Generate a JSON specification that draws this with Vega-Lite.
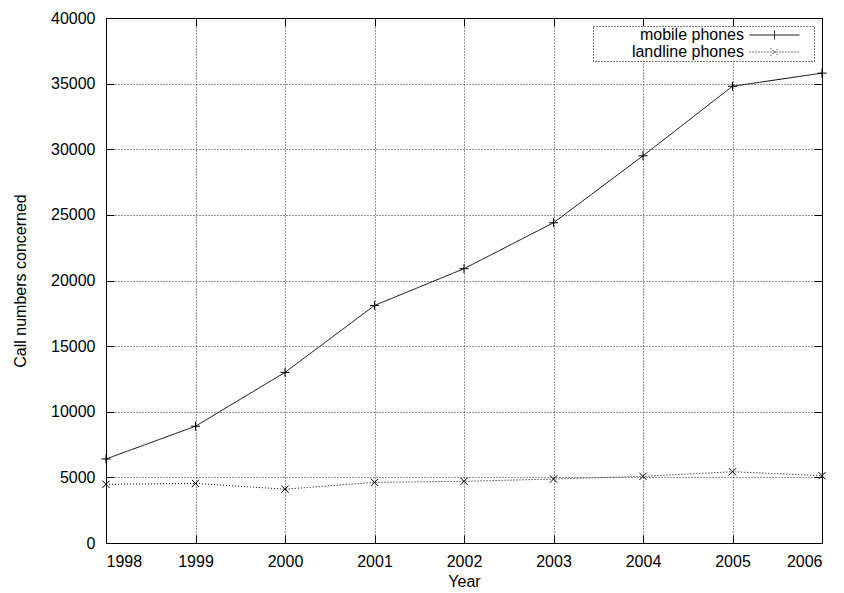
{
  "$schema": "https://vega.github.io/schema/vega-lite/v6.json",
  "width": 716,
  "height": 525,
  "autosize": "none",
  "padding": {"left": 106, "top": 18, "right": 22, "bottom": 50},
  "background": "white",
  "config": {
    "font": "Liberation Sans",
    "view": {"stroke": "black", "strokeWidth": 1},
    "axis": {
      "labelFont": "Liberation Sans",
      "titleFont": "Liberation Sans",
      "labelFontSize": 16,
      "titleFontSize": 16,
      "titleFontWeight": "normal",
      "labelColor": "black",
      "titleColor": "black",
      "tickColor": "black",
      "domainColor": "black",
      "gridColor": "black",
      "gridDash": [1, 2],
      "gridOpacity": 0.8,
      "tickSize": -8,
      "labelPadding": 18
    }
  },
  "data": {
    "values": [
      {"year": 1998, "series": "mobile phones", "value": 6400},
      {"year": 1999, "series": "mobile phones", "value": 8900},
      {"year": 2000, "series": "mobile phones", "value": 13000},
      {"year": 2001, "series": "mobile phones", "value": 18100},
      {"year": 2002, "series": "mobile phones", "value": 20900},
      {"year": 2003, "series": "mobile phones", "value": 24400},
      {"year": 2004, "series": "mobile phones", "value": 29500},
      {"year": 2005, "series": "mobile phones", "value": 34800},
      {"year": 2006, "series": "mobile phones", "value": 35800},
      {"year": 1998, "series": "landline phones", "value": 4470},
      {"year": 1999, "series": "landline phones", "value": 4540},
      {"year": 2000, "series": "landline phones", "value": 4100},
      {"year": 2001, "series": "landline phones", "value": 4620},
      {"year": 2002, "series": "landline phones", "value": 4700},
      {"year": 2003, "series": "landline phones", "value": 4870},
      {"year": 2004, "series": "landline phones", "value": 5080},
      {"year": 2005, "series": "landline phones", "value": 5430},
      {"year": 2006, "series": "landline phones", "value": 5130}
    ]
  },
  "resolve": {"axis": {"x": "independent", "y": "independent"}},
  "layer": [
    {
      "mark": {"type": "line", "color": "black", "strokeWidth": 1},
      "encoding": {
        "x": {
          "field": "year", "type": "quantitative",
          "scale": {"domain": [1998, 2006], "nice": false, "zero": false},
          "axis": {"title": "Year", "orient": "bottom", "values": [1998, 1999, 2000, 2001, 2002, 2003, 2004, 2005, 2006], "format": "d", "grid": true, "titlePadding": 4}
        },
        "y": {
          "field": "value", "type": "quantitative",
          "scale": {"domain": [0, 40000], "nice": false},
          "axis": {"title": "Call numbers concerned", "orient": "left", "values": [0, 5000, 10000, 15000, 20000, 25000, 30000, 35000, 40000], "format": "d", "grid": true, "labelPadding": 19, "titlePadding": 22}
        },
        "strokeDash": {
          "field": "series", "type": "nominal",
          "scale": {"domain": ["mobile phones", "landline phones"], "range": [[1, 0], [1, 2]]},
          "legend": {
            "title": null,
            "orient": "top-right",
            "offset": 8,
            "symbolType": "stroke",
            "symbolSize": 100,
            "symbolStrokeColor": "black",
            "symbolStrokeWidth": 1,
            "labelFontSize": 16,
            "labelFont": "Liberation Sans",
            "labelColor": "black",
            "labelAlign": "right",
            "labelLimit": 0,
            "symbolOffset": 172.5,
            "labelOffset": -38.5,
            "strokeColor": "black",
            "fillColor": "white",
            "padding": 1,
            "rowPadding": 1,
            "encode": {
              "legend": {"update": {"strokeDash": {"value": [1, 2]}}},
              "symbols": {
                "update": {
                  "shape": {"signal": "datum.value === 'mobile phones' ? 'M-5,0H5M0,-0.9V0.9M7.2,0' : 'M-5,0H5M-0.8,-0.8L0.8,0.8M-0.8,0.8L0.8,-0.8M7.2,0'"}
                }
              }
            }
          }
        }
      }
    },
    {
      "transform": [{"filter": "datum.series === 'mobile phones'"}],
      "mark": {"type": "point", "shape": "M-1,0H1M0,-1V1", "filled": false, "stroke": "black", "strokeWidth": 1, "size": 81, "opacity": 1},
      "encoding": {
        "x": {
          "field": "year", "type": "quantitative",
          "scale": {"domain": [1998, 2006], "nice": false, "zero": false},
          "axis": {"orient": "top", "title": null, "labels": false, "grid": false, "domain": false, "values": [1998, 1999, 2000, 2001, 2002, 2003, 2004, 2005, 2006]}
        },
        "y": {
          "field": "value", "type": "quantitative",
          "scale": {"domain": [0, 40000], "nice": false},
          "axis": {"orient": "right", "title": null, "labels": false, "grid": false, "domain": false, "values": [0, 5000, 10000, 15000, 20000, 25000, 30000, 35000, 40000]}
        }
      }
    },
    {
      "transform": [{"filter": "datum.series === 'landline phones'"}],
      "mark": {"type": "point", "shape": "M-0.8,-0.8L0.8,0.8M-0.8,0.8L0.8,-0.8", "filled": false, "stroke": "black", "strokeWidth": 1, "size": 81, "opacity": 1},
      "encoding": {
        "x": {"field": "year", "type": "quantitative", "scale": {"domain": [1998, 2006], "nice": false, "zero": false}, "axis": null},
        "y": {"field": "value", "type": "quantitative", "scale": {"domain": [0, 40000], "nice": false}, "axis": null}
      }
    }
  ]
}
